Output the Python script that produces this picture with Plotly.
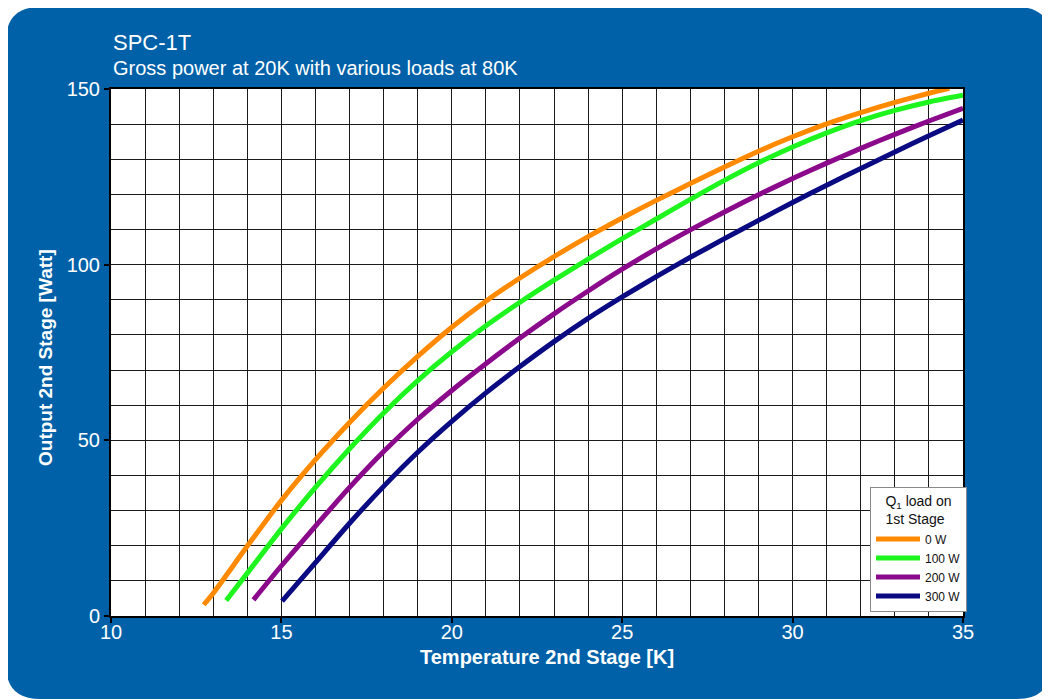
import plotly.graph_objects as go

# ---------------- data ----------------
series_names = ["0 W", "100 W", "200 W", "300 W"]
series_colors = ["#FF8A00", "#1EF41E", "#8B0A8B", "#0A0A82"]

t_0w = [12.72, 13, 14, 15, 16, 17, 18, 19, 20, 21, 22, 23, 24, 25, 26, 27, 28, 29, 30, 31, 32, 33, 34, 34.6]
p_0w = [3.2, 6.5, 19.9, 32.9, 44.5, 55.1, 64.9, 73.9, 82.2, 89.6, 96.2, 102.3, 108.0, 113.3, 118.3, 123.1, 127.8, 132.3, 136.4, 140.1, 143.3, 146.2, 148.8, 150.2]

t_100w = [13.38, 14, 15, 16, 17, 18, 19, 20, 21, 22, 23, 24, 25, 26, 27, 28, 29, 30, 31, 32, 33, 34, 35]
p_100w = [4.4, 12.2, 24.8, 36.6, 47.6, 57.8, 67.0, 75.2, 82.6, 89.3, 95.6, 101.6, 107.4, 113.0, 118.6, 124.0, 129.0, 133.5, 137.5, 141.0, 143.9, 146.3, 148.2]

t_200w = [14.18, 15, 16, 17, 18, 19, 20, 21, 22, 23, 24, 25, 26, 27, 28, 29, 30, 31, 32, 33, 34, 35]
p_200w = [4.6, 14.3, 25.6, 36.6, 46.8, 56.0, 64.2, 71.8, 79.1, 86.0, 92.5, 98.7, 104.5, 109.9, 115.0, 119.9, 124.5, 128.9, 133.1, 137.1, 140.9, 144.5]

t_300w = [15.02, 16, 17, 18, 19, 20, 21, 22, 23, 24, 25, 26, 27, 28, 29, 30, 31, 32, 33, 34, 35]
p_300w = [4.2, 15.2, 26.4, 36.9, 46.6, 55.4, 63.5, 71.0, 78.1, 84.7, 90.8, 96.6, 102.1, 107.4, 112.6, 117.7, 122.6, 127.4, 132.1, 136.7, 141.2]

x_ticks = [10, 15, 20, 25, 30, 35]
y_ticks = [0, 50, 100, 150]

title_text = "SPC-1T"
subtitle_text = "Gross power at 20K with various loads at 80K"
x_title = "Temperature 2nd Stage [K]"
y_title = "Output 2nd Stage [Watt]"
legend_title = "Q<sub>1</sub> load on<br>1st Stage"

# ---------------- layout geometry ----------------
# page has an 8px body margin; figure is sized so the plot area lands at
# x 111..963, y 89..616 of the 1050x700 window.
OFF = 8
WIN_W, WIN_H = 1050, 700
PL, PR, PT, PB = 111, 963, 89, 616
W, H = WIN_W - OFF, WIN_H - OFF
ML, MT = PL - OFF, PT - OFF
MR, MB = WIN_W - PR, WIN_H - PB
PW, PH = PR - PL, PB - PT
BLUE = "#0061A8"


def px(xp):
    return (xp - PL) / PW


def py(yp):
    return (PB - yp) / PH


def rounded_rect(x0, y0, x1, y1, r):
    pts = [
        f"M {px(x0 + r)},{py(y0)}",
        f"L {px(x1 - r)},{py(y0)}",
        f"Q {px(x1)},{py(y0)} {px(x1)},{py(y0 + r)}",
        f"L {px(x1)},{py(y1 - r)}",
        f"Q {px(x1)},{py(y1)} {px(x1 - r)},{py(y1)}",
        f"L {px(x0 + r)},{py(y1)}",
        f"Q {px(x0)},{py(y1)} {px(x0)},{py(y1 - r)}",
        f"L {px(x0)},{py(y0 + r)}",
        f"Q {px(x0)},{py(y0)} {px(x0 + r)},{py(y0)}",
        "Z",
    ]
    return " ".join(pts)


fig = go.Figure()
all_t = [t_0w, t_100w, t_200w, t_300w]
all_p = [p_0w, p_100w, p_200w, p_300w]
for name, color, t, p in zip(series_names, series_colors, all_t, all_p):
    fig.add_trace(go.Scatter(
        x=t, y=p, mode="lines", name=name,
        line=dict(color=color, width=5, shape="spline", smoothing=0.6),
    ))

font_family = "Liberation Sans, Arial, Helvetica, sans-serif"
grid_col = "#1a1a1a"

fig.update_layout(
    width=W, height=H,
    margin=dict(l=ML, r=MR, t=MT, b=MB, pad=0),
    paper_bgcolor="white",
    plot_bgcolor="white",
    font=dict(family=font_family, color="white"),
    showlegend=True,
    legend=dict(
        x=px(967), xanchor="right", y=py(612), yanchor="bottom",
        bgcolor="white", bordercolor="#8a8a8a", borderwidth=1,
        font=dict(size=12, color="#111111", family=font_family),
        title=dict(text=legend_title, side="top center",
                   font=dict(size=14, color="#111111", family=font_family)),
        itemwidth=44, tracegroupgap=0,
    ),
    xaxis=dict(
        range=[10, 35], tickvals=x_ticks, ticktext=[str(v) for v in x_ticks],
        showgrid=True, gridcolor=grid_col, gridwidth=1.3,
        minor=dict(dtick=1, tick0=10, showgrid=True, gridcolor=grid_col, gridwidth=1.3),
        showline=True, linecolor="black", linewidth=2, mirror=True,
        ticks="outside", ticklen=5, tickwidth=1.5, tickcolor="black",
        tickfont=dict(size=20, color="white"), ticklabelstandoff=-8,
        zeroline=False, fixedrange=True,
    ),
    yaxis=dict(
        range=[0, 150], tickvals=y_ticks, ticktext=[str(v) for v in y_ticks],
        showgrid=True, gridcolor=grid_col, gridwidth=1.3,
        minor=dict(dtick=10, tick0=0, showgrid=True, gridcolor=grid_col, gridwidth=1.3),
        showline=True, linecolor="black", linewidth=2, mirror=True,
        ticks="outside", ticklen=5, tickwidth=1.5, tickcolor="black",
        tickfont=dict(size=20, color="white"),
        zeroline=False, fixedrange=True,
    ),
    shapes=[
        dict(type="path", xref="paper", yref="paper", layer="below",
             path=rounded_rect(6, 7, 1051, 699, 34),
             fillcolor=BLUE, line=dict(width=0)),
        dict(type="rect", xref="paper", yref="paper", layer="below",
             x0=0, x1=1, y0=0, y1=1, fillcolor="white", line=dict(width=0)),
    ],
    annotations=[
        dict(text=title_text, xref="paper", yref="paper", x=px(111), y=py(42),
             xanchor="left", yanchor="middle", showarrow=False,
             font=dict(size=22, color="white", family=font_family)),
        dict(text=subtitle_text, xref="paper", yref="paper", x=px(111), y=py(68),
             xanchor="left", yanchor="middle", showarrow=False,
             font=dict(size=20, color="white", family=font_family)),
        dict(text="<b>" + x_title + "</b>", xref="paper", yref="paper", x=px(547), y=py(657),
             xanchor="center", yanchor="middle", showarrow=False,
             font=dict(size=20, color="white", family=font_family)),
        dict(text="<b>" + y_title + "</b>", xref="paper", yref="paper", x=px(45), y=py(358),
             xanchor="center", yanchor="middle", showarrow=False, textangle=-90,
             font=dict(size=19, color="white", family=font_family)),
    ],
)

fig.write_html("out.html")
